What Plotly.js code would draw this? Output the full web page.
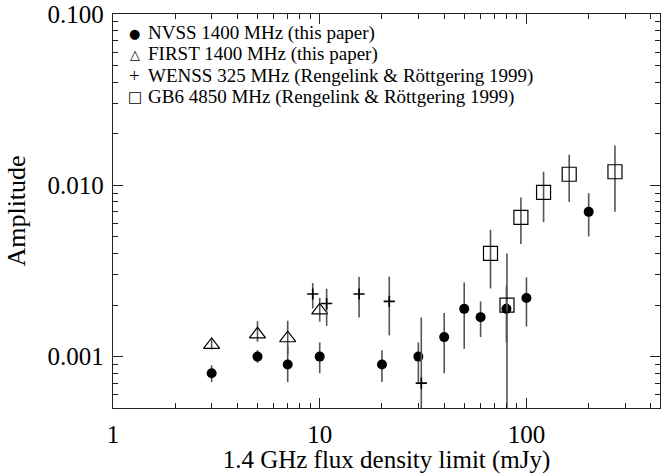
<!DOCTYPE html>
<html>
<head>
<meta charset="utf-8">
<script src="https://cdn.plot.ly/plotly-3.0.1.min.js"></script>
<style>html,body{margin:0;padding:0;background:#fff;}#chart{width:669px;height:474px;}</style>
</head>
<body>
<div id="chart"></div>
<script>
// NVSS 1400 MHz (filled circles)
const nvssX  = [3, 5, 7, 10, 20, 30, 40, 50, 60, 80, 100, 200];
const nvssY  = [0.0008, 0.0010, 0.0009, 0.0010, 0.0009, 0.0010, 0.0013, 0.0019, 0.0017, 0.0019, 0.0022, 0.0070];
const nvssHi = [0.00089, 0.00109, 0.00116, 0.00121, 0.00109, 0.00121, 0.00180, 0.00271, 0.00210, 0.00259, 0.0029, 0.0090];
const nvssLo = [0.00071, 0.00092, 0.00071, 0.00080, 0.00071, 0.00071, 0.00080, 0.00111, 0.00130, 0.00121, 0.0015, 0.00503];

// FIRST 1400 MHz (open triangles)
const firstX  = [3, 5, 7, 10];
const firstY  = [0.00117, 0.00135, 0.00128, 0.00186];
const firstHi = [0.00126, 0.00161, 0.00162, 0.0022];
const firstLo = [0.00110, 0.00122, 0.00103, 0.0016];

// WENSS 325 MHz (plus signs)
const wenssX  = [9.25, 10.8, 15.5, 21.7, 31.0];
const wenssY  = [0.00232, 0.00204, 0.00232, 0.0021, 0.0007];
const wenssHi = [0.00269, 0.00249, 0.00293, 0.00293, 0.00169];
const wenssLo = [0.00191, 0.00151, 0.00169, 0.00133, 0.0003];

// GB6 4850 MHz (open squares)
const gb6X  = [67, 80.5, 94, 121, 161, 268];
const gb6Y  = [0.0040, 0.0020, 0.0065, 0.0091, 0.0116, 0.0120];
const gb6Hi = [0.0055, 0.0040, 0.0085, 0.0120, 0.0151, 0.0171];
const gb6Lo = [0.0025, 0.0003, 0.00454, 0.0061, 0.0080, 0.0070];

const legendLabels = [
  'NVSS 1400 MHz (this paper)',
  'FIRST 1400 MHz (this paper)',
  'WENSS 325 MHz (Rengelink &amp; Röttgering 1999)',
  'GB6 4850 MHz (Rengelink &amp; Röttgering 1999)'
];
const legendGlyphs = ['●', '△', '+', '□'];

const xTitle = '1.4 GHz flux density limit (mJy)';
const yTitle = 'Amplitude';

// minor tick positions (2..9 within each decade)
const xDecades = [1, 10, 100];
const yDecades = [0.0001, 0.001, 0.01];
const mult = [2, 3, 4, 5, 6, 7, 8, 9];
const xMinor = [].concat(...xDecades.map(d => mult.map(m => m * d)));
const yMinor = [].concat(...yDecades.map(d => mult.map(m => m * d)));

const FONT = 'Liberation Serif, Times New Roman, serif';
const ERRCOL = '#555';
const AXCOL = '#222';

function errs(y, hi, lo) {
  return {
    type: 'data', symmetric: false,
    array: hi.map((h, i) => h - y[i]),
    arrayminus: lo.map((l, i) => y[i] - l),
    color: ERRCOL, thickness: 1.6, width: 0
  };
}

const traces = [
  {x: nvssX, y: nvssY, mode: 'markers', name: legendLabels[0],
   marker: {symbol: 'circle', size: 10, color: '#000'},
   error_y: errs(nvssY, nvssHi, nvssLo)},
  {x: firstX, y: firstY, mode: 'markers', name: legendLabels[1],
   marker: {symbol: 'triangle-up-open', size: 14, color: '#000', line: {width: 1.2, color: '#000'}},
   error_y: errs(firstY, firstHi, firstLo)},
  {x: wenssX, y: wenssY, mode: 'markers', name: legendLabels[2],
   marker: {symbol: 'cross-thin-open', size: 8, color: '#000', line: {width: 1.6, color: '#000'}},
   error_y: errs(wenssY, wenssHi, wenssLo)},
  {x: gb6X, y: gb6Y, mode: 'markers', name: legendLabels[3],
   marker: {symbol: 'square-open', size: 14, color: '#000', line: {width: 1.2, color: '#000'}},
   error_y: errs(gb6Y, gb6Hi, gb6Lo)},
  // empty trace so the minor-tick axes exist
  {x: [], y: [], xaxis: 'x2', yaxis: 'y2', mode: 'markers', showlegend: false}
];

const rowY = [0.951, 0.898, 0.843, 0.789];
const glyphSize = [13, 13, 19, 15];
const glyphFont = ['DejaVu Sans', 'DejaVu Sans', FONT, 'DejaVu Sans'];
const annotations = [];
legendGlyphs.forEach((g, i) => {
  annotations.push({xref: 'paper', yref: 'paper', x: 0.040, y: rowY[i], xanchor: 'center', yanchor: 'middle',
    text: g, showarrow: false, font: {family: glyphFont[i], size: glyphSize[i], color: '#000'}});
  annotations.push({xref: 'paper', yref: 'paper', x: 0.061, y: rowY[i], xanchor: 'left', yanchor: 'middle',
    text: legendLabels[i], showarrow: false, font: {family: FONT, size: 19, color: '#000'}});
});

const axisCommon = {
  type: 'log', showgrid: false, zeroline: false,
  showline: true, linecolor: AXCOL, linewidth: 1.2, mirror: 'ticks',
  ticks: 'inside', ticklen: 10, tickwidth: 1.2, tickcolor: AXCOL,
  tickfont: {family: FONT, size: 25, color: '#000'}
};
const minorCommon = {
  type: 'log', showgrid: false, zeroline: false,
  showline: true, linecolor: AXCOL, linewidth: 1.2, mirror: 'ticks',
  ticks: 'inside', ticklen: 5, tickwidth: 1, tickcolor: AXCOL,
  showticklabels: false, tickmode: 'array'
};

const xRange = [0, 2.646];
const yRange = [-3.3, -1];

const layout = {
  width: 669, height: 474,
  margin: {l: 113, r: 9, t: 14, b: 66},
  showlegend: false,
  xaxis: Object.assign({}, axisCommon, {
    range: xRange, tickmode: 'linear', tick0: 0, dtick: 1,
    ticklabelstandoff: 4,
    title: {text: xTitle, font: {family: FONT, size: 25, color: '#000'}, standoff: 9}
  }),
  yaxis: Object.assign({}, axisCommon, {
    range: yRange, tickmode: 'linear', tick0: 0, dtick: 1, tickformat: '.3f',
    ticklabelstandoff: 3,
    title: {text: yTitle, font: {family: FONT, size: 26, color: '#000'}, standoff: 14}
  }),
  xaxis2: Object.assign({}, minorCommon, {range: xRange, tickvals: xMinor, overlaying: 'x', anchor: 'y', side: 'bottom'}),
  yaxis2: Object.assign({}, minorCommon, {range: yRange, tickvals: yMinor, overlaying: 'y', anchor: 'x', side: 'left'}),
  annotations: annotations
};

Plotly.newPlot('chart', traces, layout, {displayModeBar: false, staticPlot: true});
</script>
</body>
</html>
